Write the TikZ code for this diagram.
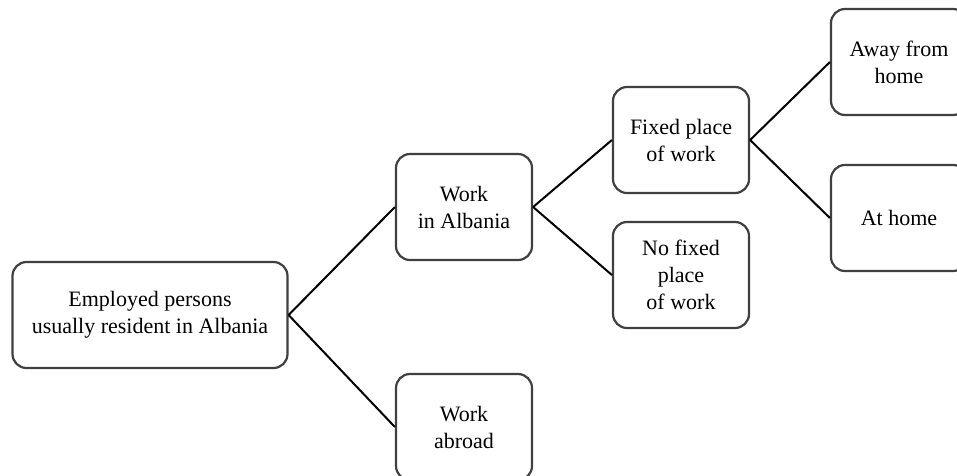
\documentclass[tikz,border=0pt]{standalone}
\usepackage{fontspec}
\setmainfont{Liberation Serif}
\begin{document}
\begin{tikzpicture}
  [x=1pt, y=-1pt,
   box/.style={rectangle, rounded corners=14pt, draw=black!75, line width=2.2pt,
     align=center, inner sep=0pt, minimum width=136pt, minimum height=106pt,
     font=\fontsize{22}{27}\selectfont},
   link/.style={line width=2pt}]
  \useasboundingbox (0,0) rectangle (957,475);

  \node[box, minimum width=275pt] (emp) at (150,315) {Employed persons\\usually resident in Albania};
  \node[box] (alb) at (464,207) {Work\\in Albania};
  \node[box] (abr) at (464,427) {Work\\abroad};
  \node[box] (fix) at (681,140) {Fixed place\\of work};
  \node[box] (nofix) at (681,275) {No fixed\\place\\of work};
  \node[box] (away) at (899,62) {Away from\\home};
  \node[box] (home) at (899,218) {At home};

  \draw[link] (emp.east) -- (alb.west);
  \draw[link] (emp.east) -- (abr.west);

  \draw[link] (alb.east) -- (fix.west);
  \draw[link] (alb.east) -- (nofix.west);

  \draw[link] (fix.east) -- (away.west);
  \draw[link] (fix.east) -- (home.west);
\end{tikzpicture}
\end{document}
